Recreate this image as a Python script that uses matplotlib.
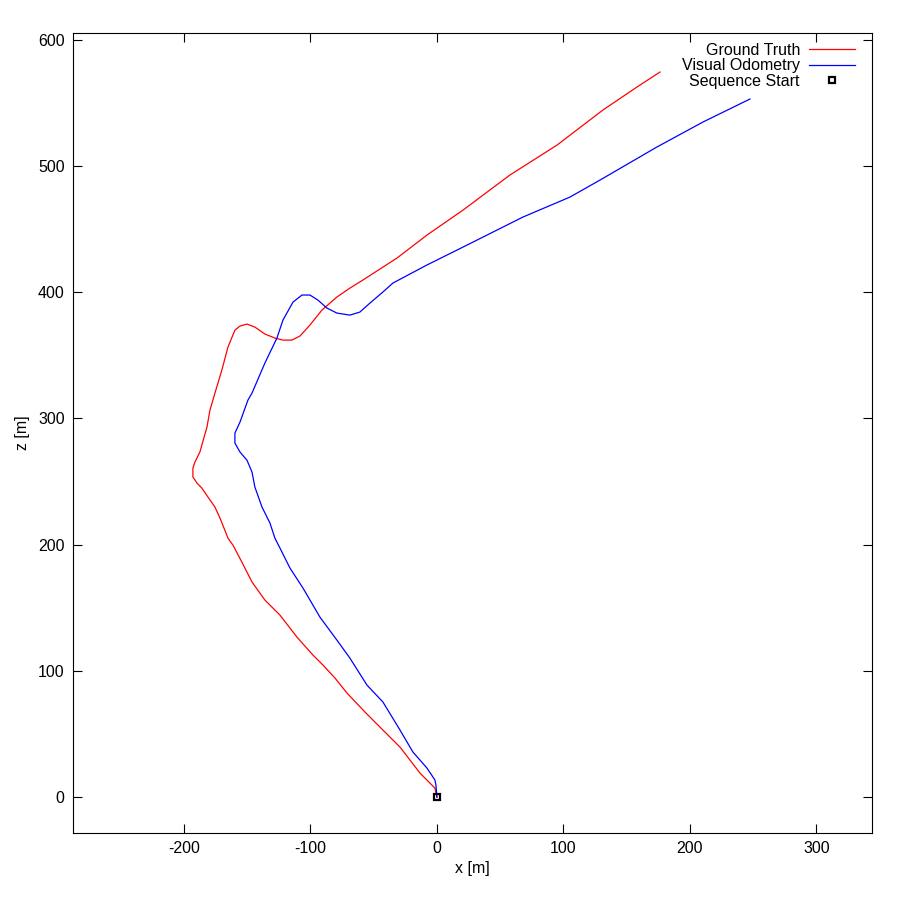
import matplotlib
matplotlib.use("Agg")
import matplotlib.pyplot as plt

plt.rcParams["font.family"] = ["Liberation Sans", "DejaVu Sans"]
plt.rcParams["axes.unicode_minus"] = False

# ground truth trajectory (x, z) in metres
gt_x = [0, -1.6, -13.4, -29.2, -45.1, -56.9, -71.1, -80.6, -90.1, -98.0,
        -110.7, -124.1, -136.0, -146.2, -154.2, -161.3, -165.2, -171.5,
        -175.5, -181.0, -185.8, -189.7, -192.9, -192.9, -191.3, -187.4,
        -181.8, -179.4, -175.5, -170.0, -165.2, -159.7, -155.7, -150.2,
        -143.9, -136.0, -128.1, -121.7, -114.6, -108.3, -100.4, -90.9,
        -79.1, -68.8, -58.5, -31.6, -7.9, 20.6, 57.7, 94.9, 131.2, 158.1,
        176.3]
gt_z = [0, 7.1, 19.0, 39.6, 55.5, 67.4, 82.4, 94.3, 104.6, 112.5, 126.8,
        144.2, 156.1, 170.4, 186.2, 199.7, 205.2, 221.1, 229.8, 237.7, 244.8,
        248.8, 253.6, 260.7, 265.5, 273.4, 293.2, 306.7, 320.1, 338.4, 356.6,
        370.0, 373.2, 374.8, 372.4, 366.9, 363.7, 362.1, 362.1, 365.3, 374.0,
        385.9, 396.2, 403.3, 409.7, 427.1, 445.3, 465.1, 492.9, 516.6, 544.4,
        562.6, 574.5]

# visual odometry trajectory
vo_x = [0, -0.8, -1.6, -7.9, -19.0, -29.2, -42.7, -55.3, -68.8, -79.1,
        -92.5, -105.9, -116.2, -124.1, -128.1, -132.0, -138.3, -143.9,
        -146.2, -150.2, -155.7, -159.7, -159.7, -155.7, -149.4, -146.2,
        -136.0, -126.5, -121.7, -113.8, -106.7, -100.4, -94.1, -87.0, -79.1,
        -68.8, -60.9, -53.0, -42.7, -34.8, -7.9, 20.6, 68.0, 105.1, 128.9,
        173.9, 210.3, 247.4]
vo_z = [0, 9.5, 13.5, 23.0, 35.7, 53.1, 75.3, 88.7, 110.1, 124.4, 142.6,
        165.6, 181.5, 197.3, 205.2, 217.1, 229.8, 245.6, 257.5, 267.0, 273.4,
        280.5, 288.4, 297.1, 314.6, 320.1, 343.9, 363.7, 378.0, 392.2, 397.8,
        397.8, 393.8, 387.5, 383.5, 381.9, 384.3, 391.4, 400.2, 407.3, 421.6,
        435.8, 459.6, 475.4, 488.9, 515.1, 534.9, 553.1]

start_x = [0]
start_z = [0]

x_ticks = [-200, -100, 0, 100, 200, 300]
z_ticks = [0, 100, 200, 300, 400, 500, 600]

fig = plt.figure(figsize=(9, 9), dpi=100)
ax = fig.add_axes([0.0811, 0.0744, 0.8878, 0.8889])

ax.plot(gt_x, gt_z, color="#ff0000", lw=0.9, label="Ground Truth")
ax.plot(vo_x, vo_z, color="#0000ff", lw=0.9, label="Visual Odometry")
ax.plot(start_x, start_z, ls="none", marker="s", ms=5, mfc="none",
        mec="black", mew=1.6, label="Sequence Start")

ax.set_xlim(-287.7, 343.9)
ax.set_ylim(-28.5, 605.4)
ax.set_xticks(x_ticks)
ax.set_yticks(z_ticks)
ax.tick_params(direction="in", length=6.5, width=0.8, top=True, right=True,
               labelsize=11.5, pad=6)
for s in ax.spines.values():
    s.set_linewidth(0.8)

ax.set_xlabel("x [m]", fontsize=11.5, labelpad=3)
ax.set_ylabel("z [m]", fontsize=11.5, labelpad=6)

leg = ax.legend(loc="upper right", bbox_to_anchor=(0.9787, 0.988),
                frameon=False, markerfirst=False, fontsize=11.5,
                handlelength=2.9, handletextpad=0.55, labelspacing=0.04,
                borderpad=0, borderaxespad=0)
leg._legend_box.align = "right"

plt.savefig("out.png")
